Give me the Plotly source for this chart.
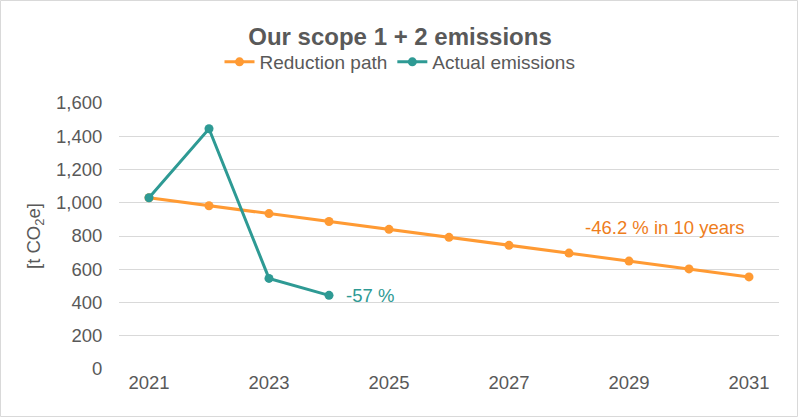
import plotly.graph_objects as go

years = [2021, 2022, 2023, 2024, 2025, 2026, 2027, 2028, 2029, 2030, 2031]
reduction_path = [1030, 982, 935, 887, 840, 792, 744, 697, 649, 602, 554]
actual_years = [2021, 2022, 2023, 2024]
actual_emissions = [1030, 1445, 545, 443]
y_ticks = [0, 200, 400, 600, 800, 1000, 1200, 1400, 1600]
x_ticks = [2021, 2023, 2025, 2027, 2029, 2031]

ORANGE = "#FF9A33"
TEAL = "#2E9A94"
FONT = "Liberation Sans, Arial, sans-serif"
GRAY = "#595959"

W, H = 800, 418
L, R, T, B = 119, 21, 103, 49
pw, ph = W - L - R, H - T - B

def px(x):
    return (x - L) / pw

def py(y):
    return (H - B - y) / ph

fig = go.Figure()
fig.add_trace(go.Scatter(
    x=years, y=reduction_path, name="Reduction path", mode="lines+markers",
    line=dict(color=ORANGE, width=3), marker=dict(color=ORANGE, size=9)))
fig.add_trace(go.Scatter(
    x=actual_years, y=actual_emissions, name="Actual emissions", mode="lines+markers",
    line=dict(color=TEAL, width=3), marker=dict(color=TEAL, size=9)))

fig.add_annotation(x=2029, y=800, text="-46.2 % in 10 years", showarrow=False,
                   font=dict(color="#EE7D1C", size=18.5, family=FONT), xanchor="center", yanchor="middle",
                   xshift=35, yshift=9)
fig.add_annotation(x=2024, y=443, text="-57 %", showarrow=False,
                   font=dict(color=TEAL, size=18.5, family=FONT), xanchor="left", yanchor="middle",
                   xshift=15, yshift=0)

fig.add_shape(type="rect", xref="paper", yref="paper",
              x0=px(0.5), x1=px(797.5), y0=py(416.5), y1=py(0.5),
              line=dict(color="#D9D9D9", width=1), fillcolor="rgba(0,0,0,0)", layer="below")

fig.update_layout(
    width=W, height=H,
    margin=dict(l=L, r=R, t=T, b=B),
    paper_bgcolor="white", plot_bgcolor="white",
    font=dict(family=FONT, color=GRAY, size=18.5),
    title=dict(text="<b>Our scope 1 + 2 emissions</b>", x=0.5, xref="container", xanchor="center",
               y=1 - 37 / H, yref="container", yanchor="middle",
               font=dict(size=24, color=GRAY, family=FONT)),
    legend=dict(orientation="h", x=0.5, xref="container", xanchor="center",
                y=1 - 62 / H, yref="container", yanchor="middle",
                font=dict(size=19, color=GRAY, family=FONT), itemwidth=30,
                bgcolor="rgba(0,0,0,0)"),
    showlegend=True,
)
fig.update_xaxes(range=[2020.5, 2031.5], tickvals=x_ticks, ticktext=[str(v) for v in x_ticks],
                 showgrid=False, zeroline=False, showline=False, ticks="", ticklen=0,
                 tickfont=dict(size=18.5, color=GRAY))
fig.update_yaxes(range=[0, 1600], tickvals=y_ticks, tickformat=",d", showgrid=True,
                 gridcolor="#D9D9D9", gridwidth=1, zeroline=False, showline=False,
                 ticks="outside", ticklen=12, tickcolor="rgba(0,0,0,0)",
                 tickfont=dict(size=18.5, color=GRAY),
                 title=dict(text="[t CO<sub>2</sub>e]", font=dict(size=18.5, color=GRAY), standoff=10))

fig.write_html("out.html")
